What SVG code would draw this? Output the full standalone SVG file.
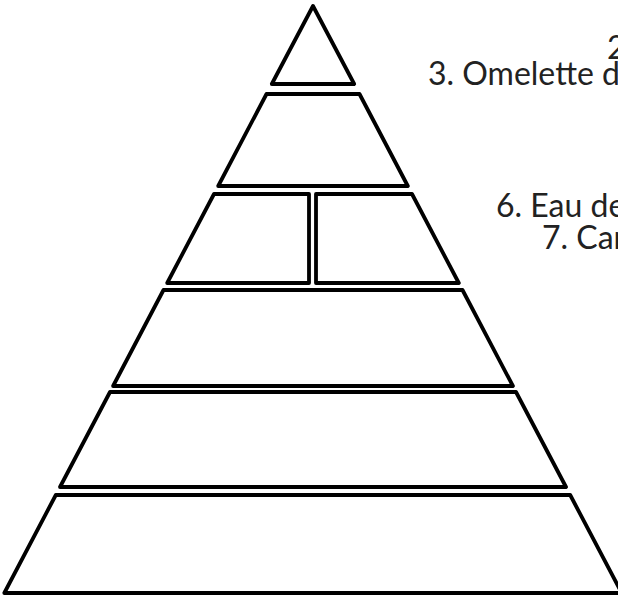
<svg xmlns="http://www.w3.org/2000/svg" width="618" height="598" viewBox="0 0 618 598">
<style>
.tier{fill:#fff;stroke:#000;stroke-width:3.8;stroke-linejoin:round}
.lbl{font-family:Lato,"Noto Sans",sans-serif;font-size:32px;fill:#222}
</style>
<rect width="618" height="598" fill="#fff"/>
<g id="tier1"><polygon class="tier" points="313,6 354.2,84 271.8,84"/></g>
<g id="tier2"><polygon class="tier" points="266.5,94 359.5,94 407.8,186 218.2,186"/></g>
<g id="tier3a"><polygon class="tier" points="214,194 309,194 309,283 167.2,283"/></g>
<g id="tier3b"><polygon class="tier" points="316,194 412,194 458.8,283 316,283"/></g>
<g id="tier4"><polygon class="tier" points="163.5,290 462.5,290 512.9,386 113.1,386"/></g>
<g id="tier5"><polygon class="tier" points="110,392 516,392 566,487 60,487"/></g>
<g id="tier6"><polygon class="tier" points="55.8,495 570.2,495 621.7,593 4.3,593"/></g>
<g id="labels">
<text class="lbl" x="607" y="59">2</text>
<text class="lbl" x="428" y="85">3. Omelette d</text>
<text class="lbl" x="496" y="217">6. Eau de</text>
<text class="lbl" x="542" y="249">7. Car</text>
</g>
</svg>
